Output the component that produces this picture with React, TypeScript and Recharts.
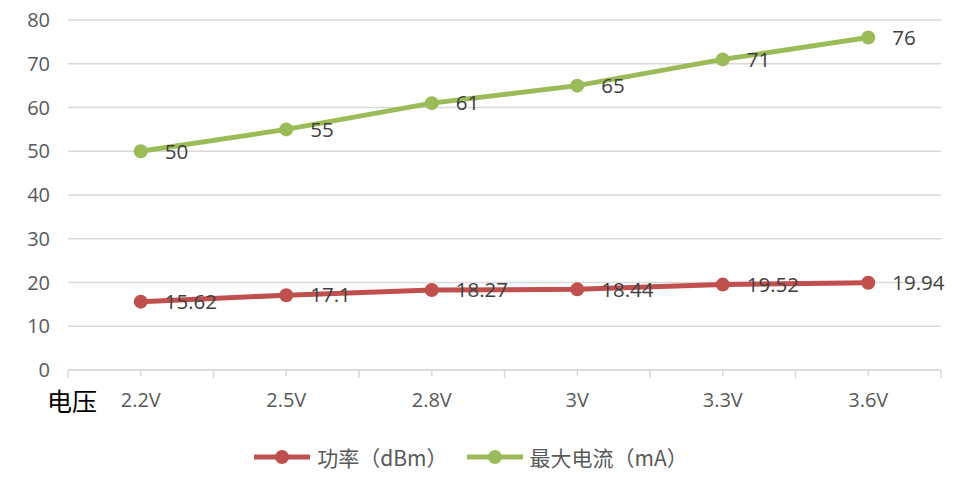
import React from 'react';
import { LineChart, Line, XAxis, YAxis, CartesianGrid, Legend, LabelList } from 'recharts';

const categories = ['2.2V', '2.5V', '2.8V', '3V', '3.3V', '3.6V'];
const powerValues = [15.62, 17.1, 18.27, 18.44, 19.52, 19.94];
const currentValues = [50, 55, 61, 65, 71, 76];
const yTicks = [0, 10, 20, 30, 40, 50, 60, 70, 80];
const seriesNames = ['功率（dBm）', '最大电流（mA）'];

const data = categories.map((c, i) => ({ cat: c, power: powerValues[i], current: currentValues[i] }));

const W = 953;
const H = 491;
const MARGIN = { top: 20, right: 12, left: 0, bottom: 19 };
const Y_W = 68;
const PLOT_W = W - MARGIN.left - MARGIN.right - Y_W;
const BAND = PLOT_W / categories.length;

const RED = '#C0504D';
const GREEN = '#9BBB59';
const GRID = '#D9D9D9';
const NUM_FONT = '"Open Sans", "Noto Sans CJK SC", sans-serif';
const CJK_FONT = '"Noto Sans CJK SC", sans-serif';

const XTick = (props: any) => {
  const { x, y, payload, index } = props;
  const last = index === categories.length - 1;
  return (
    <g>
      <line x1={x} x2={x} y1={y} y2={y + 6} stroke={GRID} strokeWidth={1.5} />
      <line x1={x - BAND / 2} x2={x - BAND / 2} y1={y} y2={y + 8} stroke={GRID} strokeWidth={1.5} />
      {last && <line x1={x + BAND / 2} x2={x + BAND / 2} y1={y} y2={y + 8} stroke={GRID} strokeWidth={1.5} />}
      <text x={x} y={y + 32} textAnchor="middle" dominantBaseline="middle" fill="#595959" fontSize={20} fontFamily={NUM_FONT}>
        {payload.value}
      </text>
      {index === 0 && (
        <text x={x - BAND / 2 + 4} y={y + 34} textAnchor="middle" dominantBaseline="middle" fill="#000" fontSize={25} fontFamily={CJK_FONT}>
          电压
        </text>
      )}
    </g>
  );
};

const LegendContent = () => {
  const items = [
    { name: seriesNames[0], color: RED },
    { name: seriesNames[1], color: GREEN },
  ];
  return (
    <div style={{ height: 30, display: 'flex', justifyContent: 'center', alignItems: 'center', gap: 18 }}>
      {items.map((it) => (
        <div key={it.name} style={{ display: 'flex', alignItems: 'center' }}>
          <svg width={58} height={16} style={{ marginRight: 6 }}>
            <line x1={1} x2={57} y1={8} y2={8} stroke={it.color} strokeWidth={5} />
            <circle cx={29} cy={8} r={7} fill={it.color} />
          </svg>
          <span style={{ fontFamily: CJK_FONT, fontSize: 21, color: '#595959' }}>{it.name}</span>
        </div>
      ))}
    </div>
  );
};

export default function App() {
  return (
    <div style={{ position: 'absolute', left: 0, top: 0, width: W, height: H, background: '#fff' }}>
      <LineChart width={W} height={H} data={data} margin={MARGIN}>
        <CartesianGrid vertical={false} stroke={GRID} strokeWidth={1.5} />
        <XAxis
          dataKey="cat"
          height={72}
          padding={{ left: BAND / 2, right: BAND / 2 }}
          axisLine={{ stroke: GRID, strokeWidth: 1.5 }}
          tickLine={false}
          tickSize={0}
          tickMargin={0}
          tick={<XTick />}
          interval={0}
        />
        <YAxis
          width={Y_W}
          domain={[0, 80]}
          ticks={yTicks}
          axisLine={false}
          tickLine={false}
          tickSize={0}
          tickMargin={18}
          tick={{ fill: '#595959', fontSize: 20, fontFamily: NUM_FONT }}
          interval={0}
        />
        <Legend verticalAlign="bottom" content={<LegendContent />} />
        <Line
          dataKey="power"
          stroke={RED}
          strokeWidth={5}
          dot={{ r: 7, fill: RED, stroke: RED, strokeWidth: 0 }}
          isAnimationActive={false}
        >
          <LabelList dataKey="power" position="right" offset={24} fill="#404040" fontSize={20.5} fontFamily={NUM_FONT} />
        </Line>
        <Line
          dataKey="current"
          stroke={GREEN}
          strokeWidth={5}
          dot={{ r: 7, fill: GREEN, stroke: GREEN, strokeWidth: 0 }}
          isAnimationActive={false}
        >
          <LabelList dataKey="current" position="right" offset={24} fill="#404040" fontSize={20.5} fontFamily={NUM_FONT} />
        </Line>
      </LineChart>
    </div>
  );
}
